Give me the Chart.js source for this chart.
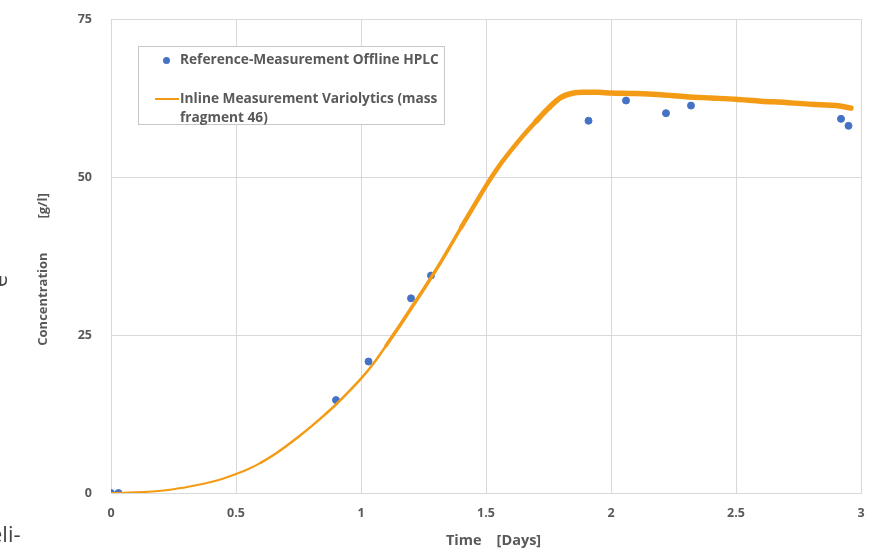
<!DOCTYPE html>
<html>
<head>
<meta charset="utf-8">
<script src="https://cdn.jsdelivr.net/npm/chart.js@4"></script>
<style>
    body { margin: 0; background: #fff; }
    #wrap { position: relative; width: 874px; height: 552px; overflow: hidden; }
    canvas { display: block; }
    #legend {
        position: absolute; left: 138px; top: 46px; width: 307px; height: 79px;
        border: 1px solid #c8c8c8; background: #fff; box-sizing: border-box;
        font: bold 13.7px "Open Sans", sans-serif; color: #595959;
    }
    .item { position: absolute; left: 41px; line-height: 19px; white-space: nowrap; }
    .dot { position: absolute; left: 24px; top: 10px; width: 7px; height: 7px; border-radius: 50%; background: #4472C4; }
    .dash { position: absolute; left: 16px; top: 51px; width: 24px; height: 2px; background: #F39B14; }
    .scrap { position: absolute; font: 22px "Open Sans", sans-serif; color: #444; }
</style>
</head>
<body>
<div id="wrap">
    <canvas id="chartConc" width="874" height="552"></canvas>
    <div id="legend">
        <span class="dot"></span>
        <div class="item" style="top:2px">Reference-Measurement Offline HPLC</div>
        <span class="dash"></span>
        <div class="item" style="top:41px">Inline Measurement Variolytics (mass<br>fragment 46)</div>
    </div>
    <div class="scrap" style="left:-10px; top:518px;">eli-</div>
    <div class="scrap" style="left:-8px; top:266px; transform: rotate(-90deg);">e</div>
</div>
<script>
// offline HPLC samples
const hplc_dias = [0, 0.03, 0.9, 1.03, 1.2, 1.28, 1.91, 2.06, 2.22, 2.32, 2.92, 2.95];
const hplc_conc = [0, 0, 14.7, 20.8, 30.8, 34.4, 58.9, 62.1, 60.1, 61.3, 59.2, 58.1];

// inline measurement (mass fragment 46)
const inline_dias = [0, 0.05, 0.1, 0.15, 0.2, 0.25, 0.3, 0.35, 0.4, 0.45, 0.5, 0.55, 0.6, 0.65, 0.7, 0.75,
    0.8, 0.85, 0.9, 0.95, 1.0, 1.05, 1.1, 1.15, 1.2, 1.25, 1.3, 1.35, 1.4, 1.45, 1.5, 1.55, 1.6, 1.65,
    1.7, 1.75, 1.8, 1.85, 1.9, 1.95, 2.0, 2.1, 2.2, 2.3, 2.4, 2.5, 2.6, 2.7, 2.8, 2.9, 2.96];
const inline_conc = [0, 0.03, 0.1, 0.2, 0.35, 0.6, 0.9, 1.3, 1.75, 2.3, 3.0, 3.8, 4.8, 6.0, 7.4, 8.9,
    10.5, 12.2, 14.0, 16.0, 18.1, 20.5, 23.3, 26.2, 29.2, 32.2, 35.3, 38.6, 42.0, 45.3, 48.6, 51.6, 54.2, 56.6,
    58.8, 60.9, 62.6, 63.3, 63.4, 63.4, 63.3, 63.2, 63.0, 62.7, 62.5, 62.3, 62.0, 61.8, 61.5, 61.3, 60.9];

const x_ticks = [0, 0.5, 1, 1.5, 2, 2.5, 3];
const y_ticks = [0, 25, 50, 75];

const nb = n => '\u00a0'.repeat(n);
const x_titulo = nb(4) + 'Time' + nb(4) + '[Days]';
const y_titulo = 'Concentration' + nb(10) + '[g/l]' + nb(8);

const tickFont = { family: 'Open Sans', size: 12.5, weight: 'bold' };
const cinza = '#595959';
const grade = '#d9d9d9';

function espessura(ctx) {
    const t = ctx.p0.parsed.x;
    if (t < 0.6) return 2;
    if (t < 1.1) return 2.5;
    if (t < 1.4) return 3.5;
    if (t < 1.7) return 4.5;
    return 5.5;
}

const ctx = document.getElementById('chartConc').getContext('2d');
new Chart(ctx, {
    type: 'scatter',
    data: {
        datasets: [{
            label: 'Inline Measurement Variolytics (mass fragment 46)',
            data: inline_dias.map((d, i) => ({ x: d, y: inline_conc[i] })),
            showLine: true,
            borderColor: '#F39B14',
            borderWidth: 2,
            borderCapStyle: 'round',
            borderJoinStyle: 'round',
            pointRadius: 0,
            tension: 0.3,
            segment: { borderWidth: espessura },
        }, {
            label: 'Reference-Measurement Offline HPLC',
            data: hplc_dias.map((d, i) => ({ x: d, y: hplc_conc[i] })),
            backgroundColor: '#4472C4',
            borderColor: '#4472C4',
            pointRadius: 3.5,
        }]
    },
    options: {
        responsive: false,
        animation: false,
        layout: { padding: { top: 19, right: 13, left: 0, bottom: 0 } },
        plugins: {
            legend: { display: false },
            tooltip: { enabled: false }
        },
        scales: {
            x: {
                type: 'linear',
                min: 0,
                max: 3,
                afterBuildTicks: s => { s.ticks = x_ticks.map(v => ({ value: v })); },
                afterFit: s => { s.height = 59; s.paddingLeft = 0; s.paddingRight = 0; },
                grid: { color: grade, drawTicks: false },
                border: { color: grade },
                ticks: { color: cinza, font: tickFont, padding: 13, callback: v => String(v) },
                title: {
                    display: true,
                    text: x_titulo,
                    color: cinza,
                    font: { family: 'Open Sans', size: 14.5, weight: 'bold' },
                    padding: { top: 0, bottom: 2 }
                }
            },
            y: {
                min: 0,
                max: 75,
                afterBuildTicks: s => { s.ticks = y_ticks.map(v => ({ value: v })); },
                afterFit: s => { s.width = 111; s.paddingTop = 0; s.paddingBottom = 0; },
                grid: { color: grade, drawTicks: false },
                border: { color: grade },
                ticks: { color: cinza, font: tickFont, padding: 19, callback: v => String(v) },
                title: {
                    display: true,
                    text: y_titulo,
                    color: cinza,
                    font: { family: 'Open Sans', size: 13, weight: 'bold' },
                    padding: { top: 35, bottom: 0 }
                }
            }
        }
    }
});
</script>
</body>
</html>
